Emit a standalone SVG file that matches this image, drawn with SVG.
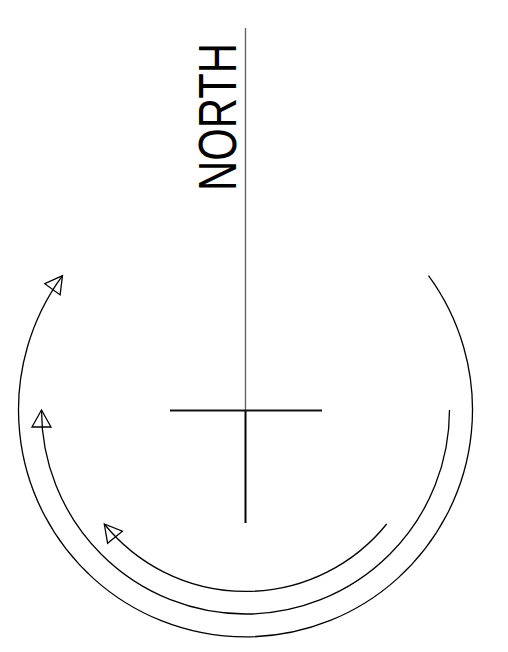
<svg xmlns="http://www.w3.org/2000/svg" width="508" height="652" viewBox="0 0 508 652">
<style>
.arc{fill:none;stroke:#000;stroke-width:1.3}
.lbl{font-family:"Liberation Sans",Arial,sans-serif;font-size:53px;fill:#000}
</style>
<defs>
<marker id="ah" markerUnits="userSpaceOnUse" markerWidth="40" markerHeight="40" refX="0" refY="0" orient="auto" overflow="visible">
<path d="M0,0 L-17,-9.5 L-17,9.5 Z" fill="none" stroke="#000" stroke-width="1.3" stroke-linejoin="miter"/>
</marker>
</defs>
<rect width="508" height="652" fill="#fff"/>
<g id="north">
<line x1="245.5" y1="28" x2="245.5" y2="410" stroke="#666" stroke-width="1.4"/>
<line x1="245.5" y1="410" x2="245.5" y2="523" stroke="#000" stroke-width="2"/>
<line x1="170" y1="410.5" x2="322" y2="410.5" stroke="#111" stroke-width="1.8"/>
<text class="lbl" transform="translate(236,191) rotate(-90) scale(0.79,1)">NORTH</text>
</g>
<g id="connectors">
<path class="arc" d="M428.5,275.6 A227,227 0 1 1 62.5,275.6" marker-end="url(#ah)"/>
<path class="arc" d="M449.5,410 A204,204 0 0 1 41.5,410" marker-end="url(#ah)"/>
<path class="arc" d="M386.7,524 A181.5,181.5 0 0 1 104.3,524" marker-end="url(#ah)"/>
</g>
</svg>
